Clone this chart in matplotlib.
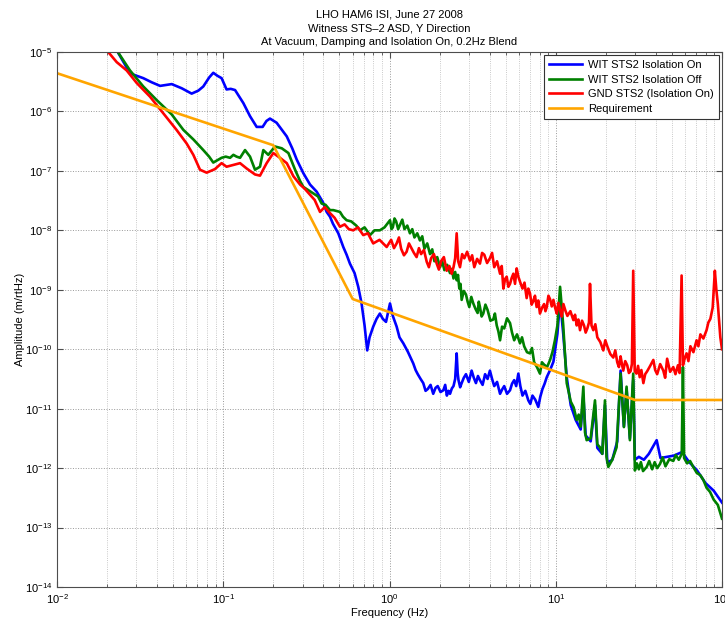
import matplotlib
matplotlib.use('Agg')
import matplotlib.pyplot as plt
import numpy as np

plt.rcParams['font.family'] = ['Liberation Sans', 'DejaVu Sans']
plt.rcParams['mathtext.fontset'] = 'custom'
plt.rcParams['mathtext.rm'] = 'Liberation Sans'
plt.rcParams['mathtext.it'] = 'Liberation Sans'

# values as (log10 f [Hz], log10 amplitude [m/rtHz])
wit_on = [
    (-1.70, -4.75), (-1.651, -4.92), (-1.561, -5.36), (-1.481, -5.44), (-1.43, -5.51), (-1.380, -5.57),
    (-1.310, -5.54), (-1.25, -5.61), (-1.190, -5.70), (-1.150, -5.65), (-1.120, -5.58), (-1.085, -5.43),
    (-1.060, -5.35), (-1.035, -5.40), (-1.010, -5.44), (-0.980, -5.63), (-0.955, -5.62), (-0.929, -5.64),
    (-0.879, -5.86), (-0.839, -6.08), (-0.799, -6.26), (-0.763, -6.26), (-0.740, -6.16), (-0.719, -6.12),
    (-0.679, -6.19), (-0.618, -6.42), (-0.585, -6.62), (-0.558, -6.81), (-0.518, -7.04), (-0.478, -7.23),
    (-0.438, -7.35), (-0.40, -7.53), (-0.378, -7.69), (-0.358, -7.77), (-0.340, -7.89), (-0.308, -8.05),
    (-0.278, -8.28), (-0.258, -8.41), (-0.238, -8.56), (-0.21, -8.72), (-0.188, -8.95), (-0.168, -9.23),
    (-0.15, -9.60), (-0.134, -10.02), (-0.12, -9.80), (-0.098, -9.62), (-0.078, -9.49), (-0.058, -9.40),
    (-0.04, -9.49), (-0.021, -9.54), (0.003, -9.23), (0.02, -9.44), (0.043, -9.62), (0.06, -9.80),
    (0.083, -9.90), (0.11, -10.04), (0.143, -10.24), (0.157, -10.35), (0.17, -10.42), (0.187, -10.50),
    (0.203, -10.57), (0.217, -10.70), (0.23, -10.67), (0.247, -10.60), (0.263, -10.75), (0.277, -10.65),
    (0.29, -10.62), (0.307, -10.72), (0.324, -10.69), (0.335, -10.60), (0.345, -10.78), (0.355, -10.70),
    (0.364, -10.75), (0.375, -10.66), (0.385, -10.62), (0.395, -10.50), (0.404, -10.07), (0.41, -10.40),
    (0.415, -10.52), (0.425, -10.64), (0.434, -10.57), (0.447, -10.48), (0.46, -10.42), (0.477, -10.55),
    (0.494, -10.36), (0.507, -10.48), (0.52, -10.57), (0.532, -10.45), (0.544, -10.52), (0.56, -10.60),
    (0.575, -10.42), (0.59, -10.50), (0.604, -10.36), (0.617, -10.50), (0.63, -10.62), (0.647, -10.55),
    (0.665, -10.75), (0.677, -10.68), (0.69, -10.62), (0.707, -10.75), (0.725, -10.69), (0.737, -10.58),
    (0.75, -10.52), (0.762, -10.62), (0.775, -10.41), (0.787, -10.62), (0.80, -10.78), (0.817, -10.70),
    (0.835, -10.86), (0.847, -10.92), (0.86, -10.78), (0.877, -10.85), (0.895, -10.97), (0.907, -10.80),
    (0.92, -10.67), (0.933, -10.58), (0.946, -10.47), (0.966, -10.35), (0.986, -10.21), (1.010, -9.74),
    (1.026, -9.17), (1.045, -9.74), (1.066, -10.47), (1.09, -10.94), (1.12, -11.19), (1.15, -11.35),
    (1.166, -10.78), (1.18, -11.45), (1.21, -11.55), (1.236, -10.94), (1.25, -11.66), (1.28, -11.76),
    (1.296, -10.94), (1.31, -11.91), (1.34, -11.86), (1.37, -11.55), (1.390, -10.36), (1.41, -11.30),
    (1.426, -10.67), (1.446, -11.50), (1.466, -10.52), (1.476, -11.86), (1.50, -11.81), (1.53, -11.86),
    (1.56, -11.76), (1.607, -11.53), (1.63, -11.83), (1.67, -11.81), (1.71, -11.79), (1.76, -11.73),
    (1.80, -11.89), (1.85, -12.04), (1.90, -12.25), (1.95, -12.38), (2.0, -12.58),
]
wit_off = [
    (-1.70, -4.65), (-1.641, -4.97), (-1.561, -5.31), (-1.481, -5.58), (-1.400, -5.81), (-1.310, -6.05),
    (-1.240, -6.31), (-1.180, -6.47), (-1.120, -6.65), (-1.085, -6.76), (-1.060, -6.86), (-1.035, -6.82),
    (-1.010, -6.78), (-0.985, -6.76), (-0.959, -6.78), (-0.939, -6.73), (-0.920, -6.76), (-0.899, -6.78),
    (-0.869, -6.65), (-0.839, -6.76), (-0.809, -6.98), (-0.779, -6.93), (-0.759, -6.65), (-0.729, -6.73),
    (-0.689, -6.59), (-0.648, -6.62), (-0.608, -6.70), (-0.568, -6.98), (-0.538, -7.17), (-0.518, -7.27),
    (-0.458, -7.38), (-0.43, -7.43), (-0.408, -7.55), (-0.385, -7.57), (-0.358, -7.66), (-0.338, -7.66),
    (-0.298, -7.69), (-0.28, -7.77), (-0.258, -7.83), (-0.23, -7.85), (-0.20, -7.92), (-0.177, -8.0),
    (-0.15, -7.95), (-0.117, -8.08), (-0.09, -8.0), (-0.058, -8.0), (-0.03, -7.95), (0.003, -7.83),
    (0.012, -7.98), (0.02, -7.95), (0.03, -7.80), (0.04, -7.85), (0.052, -7.98), (0.063, -7.91),
    (0.077, -7.82), (0.09, -7.98), (0.107, -7.92), (0.123, -8.05), (0.137, -7.98), (0.15, -8.12),
    (0.167, -8.05), (0.183, -8.17), (0.197, -8.10), (0.21, -8.31), (0.227, -8.22), (0.244, -8.40),
    (0.257, -8.32), (0.27, -8.52), (0.287, -8.45), (0.304, -8.62), (0.317, -8.52), (0.33, -8.67),
    (0.347, -8.58), (0.364, -8.72), (0.375, -8.65), (0.385, -8.81), (0.395, -8.70), (0.404, -8.84),
    (0.412, -8.75), (0.42, -8.98), (0.427, -8.90), (0.434, -9.17), (0.447, -9.02), (0.46, -9.08),
    (0.47, -9.20), (0.48, -9.29), (0.492, -9.12), (0.504, -9.23), (0.517, -9.32), (0.53, -9.39),
    (0.537, -9.20), (0.544, -9.29), (0.554, -9.45), (0.564, -9.40), (0.577, -9.25), (0.59, -9.34),
    (0.607, -9.52), (0.624, -9.50), (0.634, -9.40), (0.645, -9.60), (0.655, -9.70), (0.665, -9.85),
    (0.677, -9.62), (0.69, -9.65), (0.707, -9.48), (0.725, -9.56), (0.737, -9.72), (0.75, -9.85),
    (0.767, -9.75), (0.785, -9.90), (0.797, -9.80), (0.81, -9.95), (0.827, -10.05), (0.845, -10.07),
    (0.857, -9.98), (0.87, -10.22), (0.887, -10.30), (0.905, -10.41), (0.917, -10.22), (0.93, -10.26),
    (0.948, -10.30), (0.966, -10.18), (0.98, -10.05), (0.995, -9.85), (1.01, -9.60), (1.026, -8.95),
    (1.045, -9.60), (1.066, -10.57), (1.078, -10.72), (1.09, -10.88), (1.108, -10.98), (1.126, -11.19),
    (1.138, -11.10), (1.15, -11.30), (1.166, -10.63), (1.176, -11.40), (1.186, -11.53), (1.21, -11.50),
    (1.236, -10.86), (1.25, -11.60), (1.266, -11.65), (1.28, -11.76), (1.296, -10.86), (1.305, -11.81),
    (1.316, -11.98), (1.34, -11.86), (1.366, -11.65), (1.390, -10.41), (1.41, -11.31), (1.426, -10.63),
    (1.446, -11.53), (1.466, -10.41), (1.476, -12.04), (1.488, -11.92), (1.50, -12.02), (1.512, -11.90),
    (1.525, -12.05), (1.547, -11.98), (1.562, -11.88), (1.58, -12.02), (1.595, -11.90), (1.61, -12.00),
    (1.627, -11.93), (1.643, -11.82), (1.66, -11.97), (1.683, -11.85), (1.707, -11.88), (1.722, -11.78),
    (1.74, -11.86), (1.758, -11.76), (1.765, -10.30), (1.772, -11.83), (1.79, -11.92), (1.808, -11.88),
    (1.827, -11.98), (1.848, -12.08), (1.87, -12.12), (1.888, -12.20), (1.907, -12.33), (1.928, -12.40),
    (1.95, -12.53), (1.975, -12.62), (2.0, -12.85),
]
gnd = [
    (-1.75, -4.75), (-1.701, -4.97), (-1.641, -5.17), (-1.581, -5.31), (-1.521, -5.52), (-1.441, -5.75),
    (-1.361, -6.03), (-1.281, -6.31), (-1.220, -6.54), (-1.180, -6.73), (-1.140, -6.98), (-1.100, -7.03),
    (-1.050, -6.97), (-1.010, -6.87), (-0.980, -6.93), (-0.939, -6.90), (-0.899, -6.87), (-0.859, -6.96),
    (-0.809, -7.06), (-0.779, -7.08), (-0.739, -6.87), (-0.699, -6.70), (-0.659, -6.78), (-0.618, -6.87),
    (-0.578, -7.09), (-0.538, -7.23), (-0.510, -7.30), (-0.478, -7.40), (-0.45, -7.49), (-0.418, -7.69),
    (-0.39, -7.61), (-0.358, -7.71), (-0.33, -7.79), (-0.298, -7.94), (-0.27, -7.90), (-0.245, -7.98),
    (-0.218, -8.0), (-0.19, -7.95), (-0.158, -8.08), (-0.13, -8.05), (-0.098, -8.22), (-0.06, -8.16),
    (-0.017, -8.28), (0.01, -8.16), (0.027, -8.30), (0.043, -8.22), (0.057, -8.12), (0.07, -8.31),
    (0.087, -8.42), (0.103, -8.36), (0.117, -8.22), (0.13, -8.29), (0.147, -8.38), (0.163, -8.45),
    (0.177, -8.30), (0.19, -8.40), (0.207, -8.33), (0.224, -8.53), (0.237, -8.62), (0.25, -8.47),
    (0.267, -8.40), (0.284, -8.56), (0.297, -8.66), (0.31, -8.52), (0.327, -8.45), (0.344, -8.68),
    (0.36, -8.60), (0.374, -8.73), (0.385, -8.62), (0.395, -8.47), (0.404, -8.05), (0.413, -8.52),
    (0.424, -8.62), (0.437, -8.40), (0.45, -8.47), (0.467, -8.36), (0.484, -8.51), (0.497, -8.42),
    (0.51, -8.62), (0.527, -8.48), (0.544, -8.56), (0.557, -8.38), (0.57, -8.41), (0.587, -8.55),
    (0.604, -8.47), (0.617, -8.38), (0.63, -8.62), (0.647, -8.52), (0.665, -8.73), (0.675, -8.60),
    (0.685, -8.98), (0.695, -8.82), (0.705, -8.78), (0.715, -8.95), (0.725, -8.90), (0.735, -8.80),
    (0.745, -8.73), (0.755, -8.90), (0.765, -8.64), (0.775, -8.78), (0.787, -8.88), (0.80, -8.98),
    (0.812, -8.88), (0.825, -9.14), (0.835, -8.98), (0.845, -9.06), (0.855, -9.25), (0.865, -9.19),
    (0.875, -9.10), (0.885, -9.29), (0.895, -9.18), (0.905, -9.40), (0.918, -9.30), (0.93, -9.24),
    (0.938, -9.36), (0.946, -9.29), (0.956, -9.10), (0.966, -9.16), (0.976, -9.28), (0.986, -9.17),
    (0.996, -9.30), (1.006, -9.40), (1.016, -9.22), (1.026, -9.34), (1.036, -9.45), (1.046, -9.24),
    (1.058, -9.35), (1.07, -9.44), (1.088, -9.36), (1.106, -9.51), (1.116, -9.42), (1.126, -9.60),
    (1.136, -9.50), (1.146, -9.68), (1.158, -9.52), (1.17, -9.60), (1.18, -9.72), (1.19, -9.65),
    (1.2, -9.55), (1.206, -8.90), (1.215, -9.60), (1.226, -9.68), (1.238, -9.58), (1.25, -9.80),
    (1.268, -9.88), (1.286, -10.02), (1.298, -9.85), (1.31, -9.95), (1.328, -10.08), (1.346, -10.14),
    (1.358, -10.02), (1.37, -10.22), (1.38, -10.30), (1.39, -10.12), (1.398, -10.25), (1.406, -10.36),
    (1.418, -10.20), (1.43, -10.27), (1.44, -10.40), (1.45, -10.37), (1.458, -10.25), (1.466, -8.68),
    (1.475, -10.37), (1.486, -10.41), (1.495, -10.28), (1.505, -10.47), (1.515, -10.35), (1.527, -10.57),
    (1.538, -10.42), (1.55, -10.37), (1.568, -10.28), (1.587, -10.18), (1.598, -10.35), (1.61, -10.42),
    (1.628, -10.25), (1.647, -10.36), (1.658, -10.48), (1.67, -10.16), (1.688, -10.38), (1.707, -10.30),
    (1.72, -10.42), (1.735, -10.27), (1.745, -10.40), (1.757, -8.76), (1.765, -10.27), (1.776, -10.15),
    (1.787, -10.07), (1.798, -10.20), (1.81, -9.95), (1.828, -10.05), (1.847, -9.85), (1.858, -9.95),
    (1.87, -9.75), (1.888, -9.82), (1.907, -9.68), (1.918, -9.55), (1.93, -9.49), (1.944, -9.30),
    (1.957, -8.68), (1.966, -9.00), (1.975, -9.24), (1.99, -9.80), (2.0, -10.0),
]
req_f = [0.01, 0.2, 0.6, 30, 100]
req_a = [4.4e-6, 2.7e-7, 7.0e-10, 1.4e-11, 1.4e-11]

labels = ['WIT STS2 Isolation On', 'WIT STS2 Isolation Off', 'GND STS2 (Isolation On)', 'Requirement']
colors = ['#0000ff', '#008000', '#ff0000', '#ffa500']

fig = plt.figure(figsize=(7.25, 6.19), dpi=100)
ax = fig.add_axes([57 / 725, 32 / 619, 665 / 725, 535 / 619])

for data, lab, c in zip([wit_on, wit_off, gnd], labels[:3], colors[:3]):
    d = np.array(data)
    ax.loglog(10 ** d[:, 0], 10 ** d[:, 1], color=c, lw=1.9, label=lab)
ax.loglog(req_f, req_a, color=colors[3], lw=1.9, label=labels[3])

ax.set_xlim(1e-2, 1e2)
ax.set_ylim(1e-14, 1e-5)
ax.set_yticks([10.0 ** k for k in range(-14, -4)])
ax.grid(True, which='major', linestyle=':', color='0.6', lw=0.7)
ax.grid(True, which='minor', linestyle=':', color='0.72', lw=0.6)
ax.tick_params(which='both', direction='in', top=True, right=True, labelsize=8, color='0.3')
ax.tick_params(which='major', length=4)
ax.tick_params(which='minor', length=2)
for s in ax.spines.values():
    s.set_linewidth(0.8)
    s.set_color('0.3')

ax.set_xlabel('Frequency (Hz)', fontsize=8, labelpad=2)
ax.set_ylabel('Amplitude (m/rtHz)', fontsize=8, labelpad=0)
ax.set_title('LHO HAM6 ISI, June 27 2008\nWitness STS\u20132 ASD, Y Direction\n'
             'At Vacuum, Damping and Isolation On, 0.2Hz Blend', fontsize=8, pad=5, linespacing=1.5)

leg = ax.legend(loc='upper right', fontsize=8, fancybox=False, framealpha=1, edgecolor='0.2',
                handlelength=3.0, handletextpad=0.5, borderaxespad=0.3, labelspacing=0.4,
                borderpad=0.45)
leg.get_frame().set_linewidth(0.8)

fig.savefig('out.png', dpi=100)
